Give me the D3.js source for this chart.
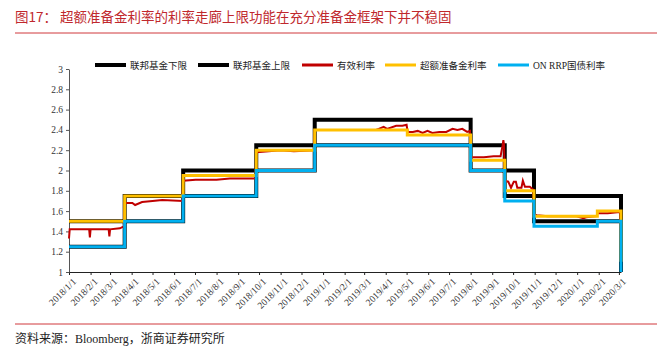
<!DOCTYPE html>
<html>
<head>
<meta charset="utf-8">
<script src="https://cdn.jsdelivr.net/npm/d3@7"></script>
<style>
  body { margin: 0; background: #fff; }
  text { font-family: "Liberation Serif", "Noto Sans CJK SC", serif; }
  .cjk { font-family: "Noto Sans CJK SC", sans-serif; }
</style>
</head>
<body>
<div id="chart"></div>
<script>
// policy rate steps (value holds from the date until the next one)
var stepDates = ["2018-01-01","2018-03-22","2018-06-14","2018-09-27","2018-12-20","2019-05-02",
  "2019-08-01","2019-09-19","2019-10-31","2020-01-30","2020-03-04"];
var lowerRate = [1.25, 1.50, 1.75, 2.00, 2.25, 2.25, 2.00, 1.75, 1.50, 1.50, 1.00]; // 联邦基金下限
var upperRate = [1.50, 1.75, 2.00, 2.25, 2.50, 2.50, 2.25, 2.00, 1.75, 1.75, 1.25]; // 联邦基金上限
var ioerRate  = [1.50, 1.75, 1.95, 2.20, 2.40, 2.35, 2.10, 1.80, 1.55, 1.60, 1.10]; // 超额准备金利率
var rrpRate   = [1.25, 1.50, 1.75, 2.00, 2.25, 2.25, 2.00, 1.70, 1.45, 1.50, 1.00]; // ON RRP

// effective fed funds rate
var effrDates = ["2018-01-01","2018-01-02","2018-01-30","2018-01-31","2018-02-01","2018-02-27","2018-02-28",
  "2018-03-01","2018-03-15","2018-03-21","2018-03-22","2018-04-02","2018-04-06","2018-04-16","2018-05-01",
  "2018-05-15","2018-06-13","2018-06-14","2018-07-02","2018-08-01","2018-08-20","2018-09-05","2018-09-26",
  "2018-09-27","2018-10-15","2018-11-01","2018-11-20","2018-12-19","2018-12-20","2019-01-31","2019-03-01",
  "2019-03-18","2019-03-22","2019-03-29","2019-04-03","2019-04-16","2019-04-25","2019-05-01","2019-05-02",
  "2019-05-03","2019-05-10","2019-05-17","2019-05-24","2019-05-31","2019-06-07","2019-06-17","2019-06-27",
  "2019-07-06","2019-07-13","2019-07-20","2019-07-27","2019-07-31","2019-08-01","2019-08-20","2019-09-03",
  "2019-09-13","2019-09-16","2019-09-17","2019-09-18","2019-09-19","2019-09-24","2019-09-28","2019-10-02",
  "2019-10-05","2019-10-07","2019-10-13","2019-10-15","2019-10-18","2019-10-25","2019-10-30","2019-10-31",
  "2019-11-04","2019-11-20","2019-12-10","2019-12-31","2020-01-10","2020-01-14","2020-01-29","2020-01-30",
  "2020-02-14","2020-03-02","2020-03-03","2020-03-04"];
var effrRate = [1.33, 1.42, 1.42, 1.34, 1.42, 1.42, 1.35,
  1.42, 1.43, 1.45, 1.68, 1.68, 1.66, 1.69, 1.70,
  1.71, 1.70, 1.90, 1.91, 1.91, 1.92, 1.92, 1.92,
  2.18, 2.19, 2.20, 2.19, 2.20, 2.40, 2.40, 2.40,
  2.40, 2.41, 2.43, 2.41, 2.44, 2.44, 2.45, 2.40,
  2.38, 2.38, 2.39, 2.37, 2.39, 2.37, 2.38, 2.38,
  2.41, 2.40, 2.41, 2.38, 2.39, 2.13, 2.13, 2.14,
  2.14, 2.25, 2.30, 2.25, 1.90, 1.89, 1.83, 1.89,
  1.89, 1.83, 1.83, 1.90, 1.84, 1.84, 1.81, 1.57,
  1.56, 1.55, 1.55, 1.55, 1.53, 1.54, 1.55, 1.58,
  1.58, 1.59, 1.58, 1.09];

var yTicks = [1, 1.2, 1.4, 1.6, 1.8, 2, 2.2, 2.4, 2.6, 2.8, 3];

var seriesNames = ["联邦基金下限", "联邦基金上限", "有效利率", "超额准备金利率", "ON RRP国债利率"];
var seriesColors = ["#000000", "#000000", "#c00000", "#ffc000", "#00b0f0"];
var seriesWidths = [4, 4, 2, 3, 3];

var W = 663, H = 355;
var parse = d3.timeParse("%Y-%m-%d");

var svg = d3.select("#chart").append("svg")
  .attr("width", W)
  .attr("height", H);

// TITLE
svg.append("text")
  .attr("class", "cjk")
  .attr("x", 15).attr("y", 22)
  .attr("font-size", 13.5)
  .attr("fill", "#c0282d")
  .text("图17：  超额准备金利率的利率走廊上限功能在充分准备金框架下并不稳固");
svg.append("line")
  .attr("x1", 15).attr("x2", 657).attr("y1", 33).attr("y2", 33)
  .attr("stroke", "#d0383d").attr("stroke-width", 1);

// SCALES
var x = d3.scaleTime()
  .domain([parse("2018-01-01"), parse("2020-03-04")])
  .range([69, 621]);
var y = d3.scaleLinear()
  .domain([1, 3])
  .range([272, 69]);

// AXES
var months = d3.timeMonth.range(parse("2018-01-01"), parse("2020-03-02"));
var xAxis = svg.append("g")
  .attr("transform", "translate(0," + y(1) + ")")
  .call(d3.axisBottom(x).tickValues(months).tickFormat(d3.timeFormat("%Y/%-m/%-d"))
    .tickSize(3).tickSizeOuter(0));
xAxis.select(".domain").attr("stroke", "#222");
xAxis.selectAll(".tick line").attr("stroke", "#222");
xAxis.selectAll(".tick text")
  .attr("font-size", 9.5)
  .attr("fill", "#333")
  .attr("text-anchor", "end")
  .attr("dy", 0)
  .attr("transform", "translate(3,6) rotate(-45)");

var yAxis = svg.append("g")
  .attr("transform", "translate(" + x.range()[0] + ",0)")
  .call(d3.axisLeft(y).tickValues(yTicks).tickFormat(function (d) { return +d.toFixed(1); })
    .tickSize(3).tickSizeOuter(0));
yAxis.select(".domain").attr("stroke", "#555");
yAxis.selectAll(".tick line").attr("stroke", "#555");
yAxis.selectAll(".tick text").attr("font-size", 9.5).attr("fill", "#333");

// LINES
var stepData = [lowerRate, upperRate, null, ioerRate, rrpRate];
var stepLine = d3.line()
  .x(function (d) { return x(d.date); })
  .y(function (d) { return y(d.value); })
  .curve(d3.curveStepAfter);
var plainLine = d3.line()
  .x(function (d) { return x(d.date); })
  .y(function (d) { return y(d.value); })
  .curve(d3.curveLinear);

seriesNames.forEach(function (name, i) {
  var pts, gen;
  if (stepData[i]) {
    pts = stepDates.map(function (s, k) { return { date: parse(s), value: stepData[i][k] }; });
    gen = stepLine;
  } else {
    pts = effrDates.map(function (s, k) { return { date: parse(s), value: effrRate[k] }; });
    gen = plainLine;
  }
  svg.append("path")
    .datum(pts)
    .attr("d", gen)
    .attr("fill", "none")
    .attr("stroke", seriesColors[i])
    .attr("stroke-width", seriesWidths[i])
    .attr("stroke-linejoin", "miter");
});

// LEGEND
var legendX = [95, 198, 302, 385, 498];
var legend = svg.append("g").attr("transform", "translate(0,65)");
seriesNames.forEach(function (name, i) {
  legend.append("line")
    .attr("x1", legendX[i]).attr("x2", legendX[i] + 31)
    .attr("y1", 0).attr("y2", 0)
    .attr("stroke", seriesColors[i])
    .attr("stroke-width", i < 2 ? 4 : 3);
  legend.append("text")
    .attr("class", i === 4 ? null : "cjk")
    .attr("x", legendX[i] + 35).attr("y", 3.5)
    .attr("font-size", 9.5)
    .attr("fill", "#222")
    .text(name);
});

// SOURCE
svg.append("line")
  .attr("x1", 15).attr("x2", 657).attr("y1", 324).attr("y2", 324)
  .attr("stroke", "#d0383d").attr("stroke-width", 1);
svg.append("text")
  .attr("x", 15).attr("y", 343)
  .attr("font-size", 12)
  .attr("fill", "#222")
  .text("资料来源：Bloomberg，浙商证券研究所");
</script>
</body>
</html>
